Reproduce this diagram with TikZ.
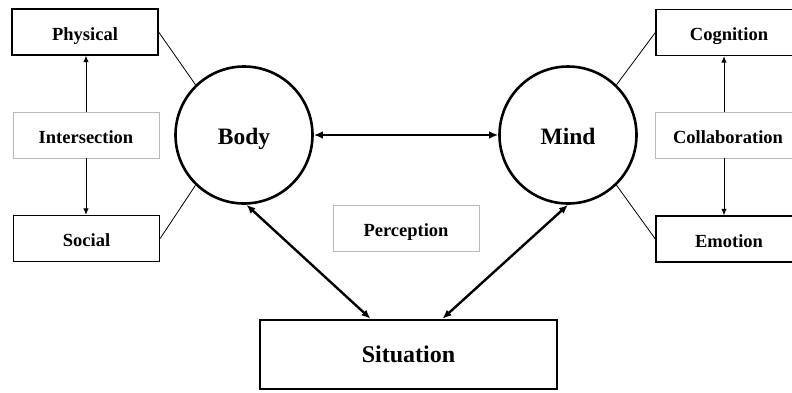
\documentclass[tikz,border=0pt]{standalone}
\usepackage{fontspec}
\setmainfont{Liberation Serif}
\usetikzlibrary{arrows.meta}
\begin{document}
\begin{tikzpicture}[x=1pt,y=-1pt,
  every node/.style={font=\bfseries\fontsize{18.5}{20}\selectfont, inner sep=0pt, align=center,
    text height=16pt, text depth=0pt},
  facet/.style={draw=black, line width=1.3pt, minimum width=146pt, minimum height=46pt},
  link/.style={draw=gray!55, line width=0.8pt, minimum width=146pt, minimum height=46pt},
  hub/.style={circle, draw=black, line width=2.6pt, minimum size=137pt,
    font=\bfseries\fontsize{23.5}{26}\selectfont, text height=18pt},
  spoke/.style={line width=0.8pt},
  thinarrow/.style={line width=1pt, -{Latex[length=6.5pt,width=5.5pt]}},
  bigarrow/.style={line width=2.4pt, {Latex[length=9pt,width=7.5pt]}-{Latex[length=9pt,width=7.5pt]}}
]
\useasboundingbox (0,0) rectangle (792,392);
\clip (0,0) rectangle (792,392);

% side boxes on the left
\node[facet] (physical) at (85,32) {Physical};
\node[link] (intersection) at (86,135) {Intersection};
\node[facet] (social) at (86.5,238.5) {Social};

% side boxes on the right
\node[facet] (cognition) at (729,32.5) {Cognition};
\node[link] (collaboration) at (728,135) {Collaboration};
\node[facet] (emotion) at (729,239) {Emotion};

% central elements
\node[hub] (body) at (244,135) {Body};
\node[hub] (mind) at (568,135) {Mind};
\node[link] (perception) at (406,228) {Perception};
\node[draw=black, line width=2.6pt, minimum width=297pt, minimum height=69pt,
      font=\bfseries\fontsize{24}{26}\selectfont, text height=15pt] (situation) at (408.5,354.5) {Situation};

% spokes from circles to side boxes
\draw[spoke] (physical.east) -- (body.134);
\draw[spoke] (social.east) -- (body.226);
\draw[spoke] (cognition.west) -- (mind.46);
\draw[spoke] (emotion.west) -- (mind.-46);

% arrows between side boxes
\coordinate (collab top) at ([xshift=-4pt]collaboration.north);
\coordinate (collab bottom) at ([xshift=-4pt]collaboration.south);
\draw[thinarrow] (intersection.north) -- (physical.south -| intersection.north);
\draw[thinarrow] (intersection.south) -- (social.north -| intersection.south);
\draw[thinarrow] (collab top) -- (cognition.south -| collab top);
\draw[thinarrow] (collab bottom) -- (emotion.north -| collab bottom);

% main relations
\draw[bigarrow] (body) -- (mind);
\draw[bigarrow] (body.-88) -- ([xshift=-38pt]situation.north);
\draw[bigarrow] (mind.-90) -- ([xshift=34pt]situation.north);
\end{tikzpicture}
\end{document}
